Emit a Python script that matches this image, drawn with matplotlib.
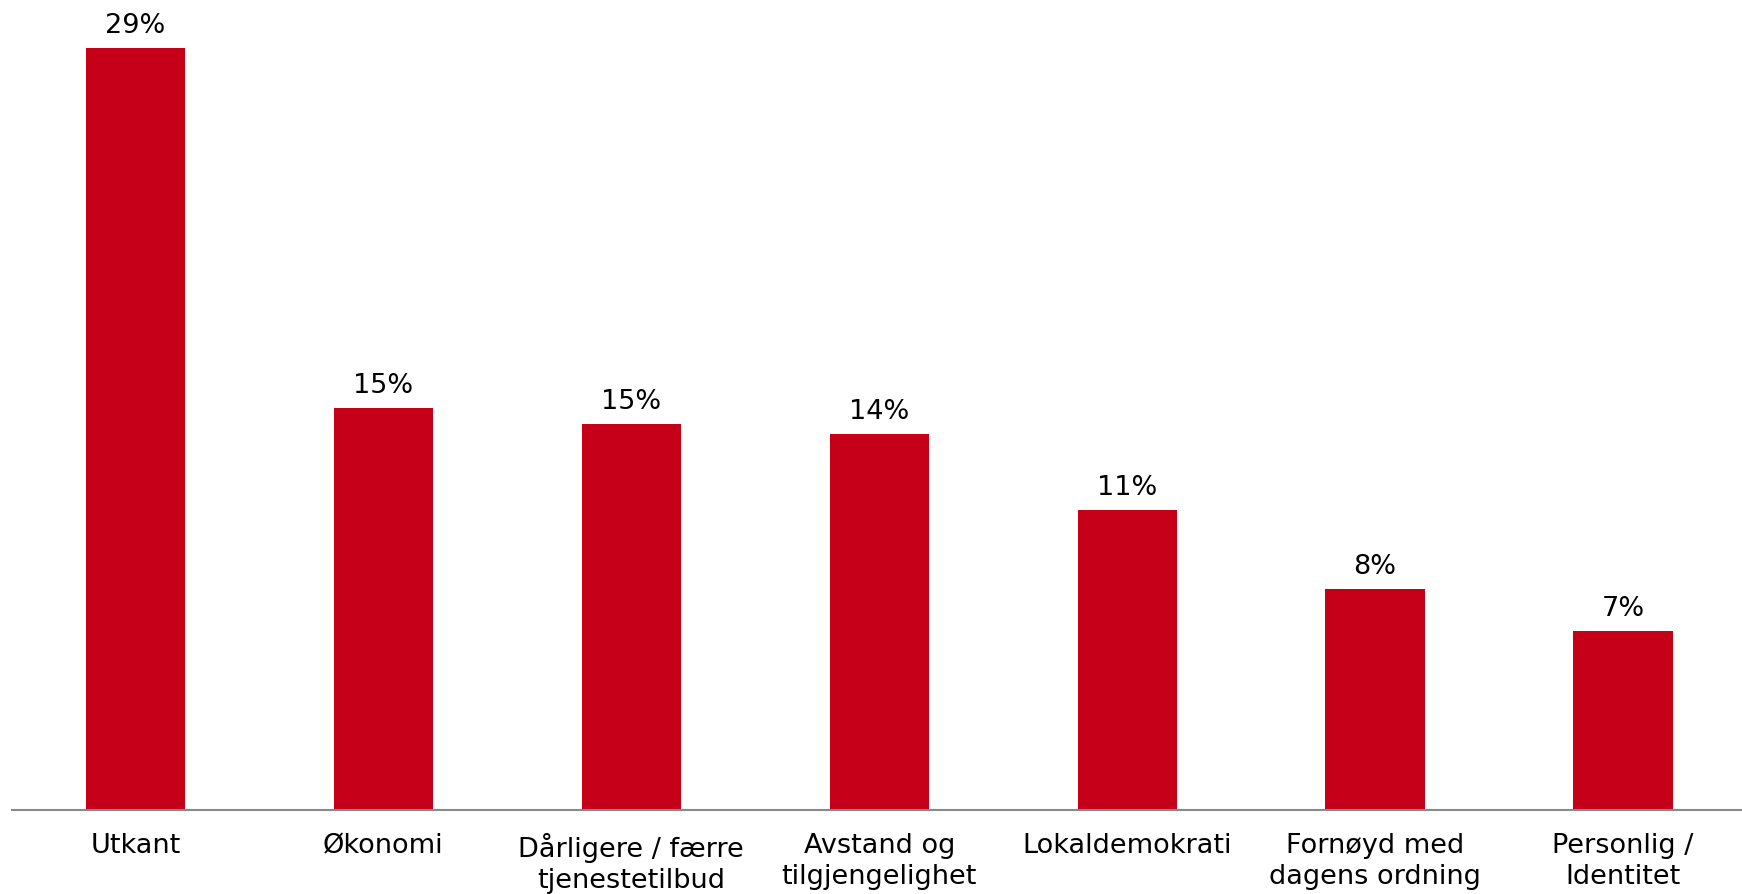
import matplotlib.pyplot as plt
import numpy as np

# Data
categories = ['Utkant', 'Økonomi', 'Dårligere / færre\ntjenestetilbud',
              'Avstand og\ntilgjengelighet', 'Lokaldemokrati',
              'Fornøyd med\ndagens ordning', 'Personlig /\nIdentitet']
values = [29.0, 15.3, 14.7, 14.3, 11.4, 8.4, 6.8]
labels = ['29%', '15%', '15%', '14%', '11%', '8%', '7%']

red = '#C50018'
fig = plt.figure(figsize=(17.42, 8.95), dpi=100)
# axes: baseline at y=811px, left edge at ~12px
ax = fig.add_axes([11.6 / 1742, (895 - 811) / 895, 1.0, 811 / 895])

x = np.arange(len(categories))
ax.bar(x, values, width=0.4, color=red)

for xi, v, lab in zip(x, values, labels):
    ax.annotate(lab, (xi, v), xytext=(0, 11.5), textcoords='offset points',
                ha='center', va='baseline', fontsize=19.5, color='black')

ax.set_xlim(-0.5, 6.527)
ax.set_ylim(0, 811 / 26.28)
ax.set_xticks(x)
ax.set_xticklabels(categories, fontsize=19.5, linespacing=1.25)
ax.tick_params(axis='x', length=0, pad=16)
ax.set_yticks([])
for s in ['top', 'right', 'left']:
    ax.spines[s].set_visible(False)
ax.spines['bottom'].set_color('#898989')
ax.spines['bottom'].set_linewidth(1.5)

fig.savefig('out.png', dpi=100)
